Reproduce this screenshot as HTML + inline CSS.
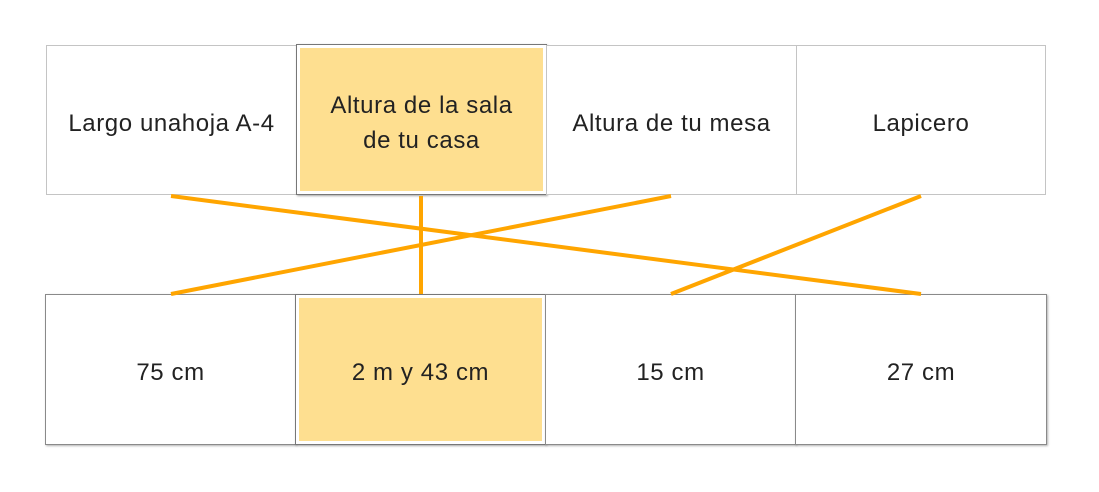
<!DOCTYPE html>
<html><head><meta charset="utf-8"><style>
body{margin:0;width:1099px;height:492px;background:#fff;position:relative;overflow:hidden;font-family:"Liberation Sans","DejaVu Sans",sans-serif;}
.box{position:absolute;box-sizing:border-box;display:flex;align-items:center;justify-content:center;text-align:center;font-size:24px;letter-spacing:0.6px;color:#222;line-height:35px;background:#fff;padding-top:6px;}
.top{border:1px solid #c4c4c4;}
.sel{border:1px solid #777;box-shadow:1px 1px 2px rgba(0,0,0,.35);}
.sel .fill{position:absolute;left:3px;top:3px;right:3px;bottom:3px;background:#fedf90;}
.sel span{position:relative;}
.bot{border:1px solid #8a8a8a;box-shadow:1px 1px 2px rgba(0,0,0,.3);}
svg{position:absolute;left:0;top:0;}
</style></head><body>
<div class="box top" style="left:46px;top:45px;width:251px;height:150px">Largo unahoja A-4</div>
<div class="box sel" style="left:296px;top:44px;width:251px;height:151px"><div class="fill"></div><span>Altura de la sala<br>de tu casa</span></div>
<div class="box top" style="left:546px;top:45px;width:251px;height:150px">Altura de tu mesa</div>
<div class="box top" style="left:796px;top:45px;width:250px;height:150px">Lapicero</div>

<div class="box bot" style="left:45px;top:294px;width:251px;height:151px">75 cm</div>
<div class="box sel" style="left:295px;top:294px;width:251px;height:151px"><div class="fill"></div><span>2 m y 43 cm</span></div>
<div class="box bot" style="left:545px;top:294px;width:251px;height:151px">15 cm</div>
<div class="box bot" style="left:795px;top:294px;width:252px;height:151px">27 cm</div>

<svg width="1099" height="492">
<g stroke="#ffa500" stroke-width="4">
<line x1="171" y1="196" x2="921" y2="294"/>
<line x1="421" y1="196" x2="421" y2="294"/>
<line x1="671" y1="196" x2="171" y2="294"/>
<line x1="921" y1="196" x2="671" y2="294"/>
</g></svg>
</body></html>
